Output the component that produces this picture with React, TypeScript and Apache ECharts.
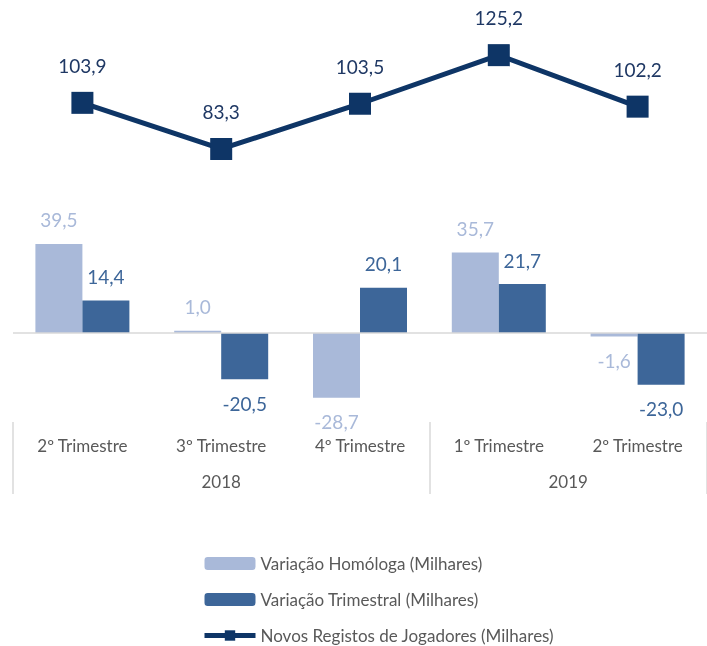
import React, { useEffect, useRef } from "react";
import * as echarts from "echarts";

const categories = ["2º Trimestre", "3º Trimestre", "4º Trimestre", "1º Trimestre", "2º Trimestre"];
const years = ["2018", "2019"];
const yearSpans = [3, 2];
const homologa = [39.5, 1.0, -28.7, 35.7, -1.6];
const trimestral = [14.4, -20.5, 20.1, 21.7, -23.0];
const registos = [103.9, 83.3, 103.5, 125.2, 102.2];
const seriesNames = [
  "Variação Homóloga (Milhares)",
  "Variação Trimestral (Milhares)",
  "Novos Registos de Jogadores (Milhares)",
];

const LIGHT = "#a9b9d9";
const DARK = "#3d6699";
const NAVY = "#0e3566";
const FONT = "Lato";

const fmt = (v: number) => v.toFixed(1).replace(".", ",");

export default function App() {
  const ref = useRef<HTMLDivElement>(null);
  useEffect(() => {
    if (!ref.current) return;
    const chart = echarts.init(ref.current, null, { renderer: "svg" });
    const sepValues: number[] = [0];
    const yearCenters: number[] = [];
    let acc = 0;
    yearSpans.forEach((s) => {
      yearCenters.push(acc + s);
      acc += 2 * s;
      sepValues.push(acc);
    });
    const barLabel = (color: string) => ({
      show: true,
      color,
      fontFamily: FONT,
      fontSize: 19,
      distance: 14.5,
      formatter: (p: any) => fmt(p.value),
    });
    const barData = (arr: number[], color: string) =>
      arr.map((v) => ({
        value: v,
        label: { position: v >= 0 ? "top" : "bottom", ...barLabel(color) },
      }));
    chart.setOption({
      animation: false,
      textStyle: { fontFamily: FONT },
      grid: { left: 13, top: 20, width: 699, height: 402, containLabel: false },
      xAxis: [
        {
          type: "category",
          data: categories,
          position: "bottom",
          axisLine: { show: false, onZero: false },
          axisTick: { show: false },
          axisLabel: { color: "#595959", fontSize: 17, fontFamily: FONT, margin: 15 },
          splitLine: { show: false },
        },
        {
          type: "value",
          min: 0,
          max: acc,
          position: "bottom",
          axisLine: { show: false, onZero: false },
          axisTick: {
            show: true,
            customValues: sepValues,
            length: 72,
            lineStyle: { color: "#d9d9d9", width: 1.5 },
          },
          axisLabel: {
            show: true,
            customValues: yearCenters,
            formatter: (v: number) => {
              const i = yearCenters.indexOf(v);
              return i >= 0 ? years[i] : "";
            },
            color: "#595959",
            fontSize: 17,
            fontFamily: FONT,
            margin: 51,
          },
          splitLine: { show: false },
        },
      ],
      yAxis: [
        { type: "value", show: false, min: -39.5, max: 138.9, splitLine: { show: false } },
        { type: "value", show: false, min: -38.6, max: 140.89, splitLine: { show: false } },
      ],
      legend: {
        orient: "vertical",
        left: 197,
        top: 550,
        height: 120,
        itemWidth: 51,
        itemHeight: 13,
        itemGap: 19,
        textStyle: { color: "#595959", fontSize: 17, fontFamily: FONT, lineHeight: 16 },
        data: [
          { name: seriesNames[0] },
          { name: seriesNames[1] },
          { name: seriesNames[2], lineStyle: { width: 5 } },
        ],
      },
      series: [
        {
          name: seriesNames[0],
          type: "bar",
          xAxisIndex: 0,
          yAxisIndex: 0,
          barWidth: 47,
          barGap: "0%",
          itemStyle: { color: LIGHT },
          data: barData(homologa, LIGHT),
          markLine: {
            silent: true,
            symbol: "none",
            label: { show: false },
            lineStyle: { color: "#d9d9d9", width: 1.5, type: "solid" },
            data: [{ yAxis: 0 }],
          },
          z: 2,
        },
        {
          name: seriesNames[1],
          type: "bar",
          xAxisIndex: 0,
          yAxisIndex: 0,
          barWidth: 47,
          barGap: "0%",
          itemStyle: { color: DARK },
          data: barData(trimestral, DARK),
          z: 2,
        },
        {
          name: seriesNames[2],
          type: "line",
          xAxisIndex: 0,
          yAxisIndex: 1,
          data: registos,
          symbol: "rect",
          symbolSize: 22,
          lineStyle: { color: NAVY, width: 5 },
          itemStyle: { color: NAVY },
          label: {
            show: true,
            position: "top",
            distance: 17,
            color: "#1f3864",
            fontSize: 19,
            fontFamily: FONT,
            formatter: (p: any) => fmt(p.value),
          },
          z: 3,
        },
      ],
    });
    return () => chart.dispose();
  }, []);
  return (
    <div
      ref={ref}
      style={{ position: "fixed", left: 0, top: 0, width: 707, height: 646 }}
    />
  );
}
